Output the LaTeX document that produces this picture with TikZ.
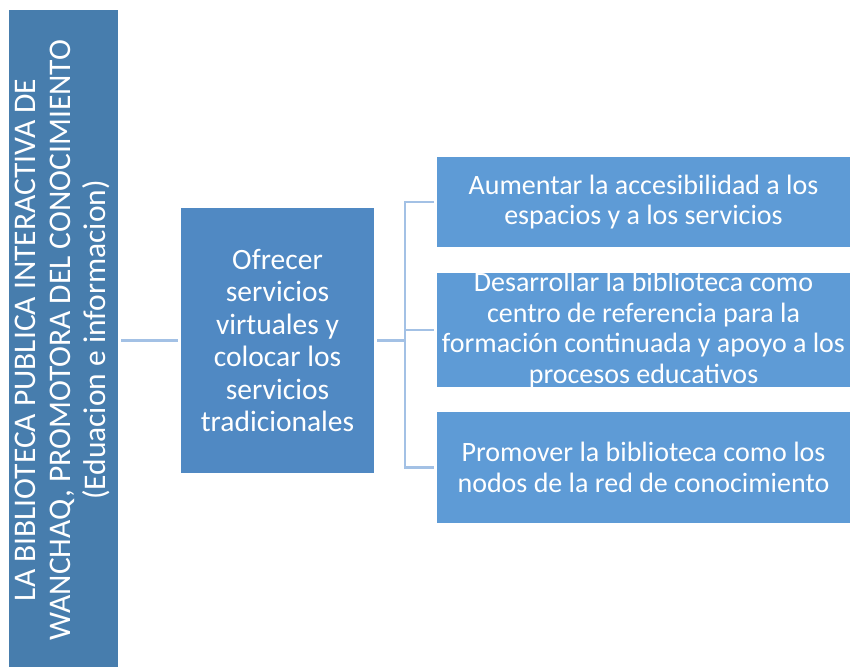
\documentclass[tikz,border=0pt]{standalone}
\usepackage{fontspec}
\setmainfont{Carlito}
\usetikzlibrary{calc}
\definecolor{c1}{HTML}{477DAD}
\definecolor{c2}{HTML}{5089C3}
\definecolor{c3}{HTML}{5E9BD6}
\definecolor{cl}{HTML}{A3C1E5}
\tikzset{
  boxbase/.style={rectangle, inner sep=0pt, outer sep=0pt, draw=none},
  txt/.style={text=white, align=center, inner sep=0pt},
  conn/.style={draw=cl, line width=2.6pt},
}
\begin{document}
\begin{tikzpicture}[x=1pt,y=-1pt]
\useasboundingbox (0,0) rectangle (850,667);
% left box (rotated)
\node[boxbase, fill=c1, rotate=90, minimum width=657pt, minimum height=109pt] (L) at (63.5,338.5) {};
\node[txt, rotate=90, font=\fontsize{31.5}{35}\selectfont] (Lt) at (62,340) {LA BIBLIOTECA PUBLICA INTERACTIVA DE\\WANCHAQ, PROMOTORA DEL CONOCIMIENTO\\(Eduacion e informacion)};
% middle box
\node[boxbase, fill=c2, minimum width=193pt, minimum height=265pt] (M) at (277.5,340.5) {};
\node[txt, font=\fontsize{29.5}{32.5}\selectfont] (Mt) at (M.center) {Ofrecer\\servicios\\virtuales y\\colocar los\\servicios\\tradicionales};
% right boxes
\node[boxbase, fill=c3, minimum width=413pt, minimum height=90pt] (R1) at (643.5,202) {};
\node[boxbase, fill=c3, minimum width=413pt, minimum height=114pt] (R2) at (643.5,330) {};
\node[boxbase, fill=c3, minimum width=413pt, minimum height=111pt] (R3) at (643.5,467.5) {};
\node[txt, font=\fontsize{28}{30.5}\selectfont] (R1t) at (R1.center) {Aumentar la accesibilidad a los\\espacios y a los servicios};
\node[txt, font=\fontsize{28}{30.5}\selectfont] (R2t) at (R2.center) {Desarrollar la biblioteca como\\centro de referencia para la\\formación continuada y apoyo a los\\procesos educativos};
\node[txt, font=\fontsize{28}{30.5}\selectfont] (R3t) at (R3.center) {Promover la biblioteca como los\\nodos de la red de conocimiento};
% connectors
\coordinate (J) at ($(M.east)+(31,0)$);
\draw[conn] ([xshift=3pt]M.west -| L.south) -- ([xshift=-3pt]M.west);
\draw[conn] ([xshift=3pt]M.east) -- (J);
\draw[conn] ([xshift=-3pt]R1.west) -| (J |- R1.west) -- (J |- R3.west) -- ([xshift=-3pt]R3.west);
\draw[conn] (J |- R2.west) -- ([xshift=-3pt]R2.west);
\end{tikzpicture}
\end{document}
